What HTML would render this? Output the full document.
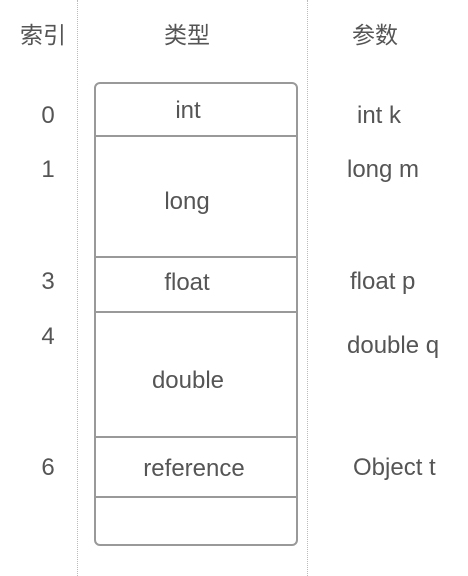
<!DOCTYPE html>
<html><head><meta charset="utf-8"><style>
body{margin:0;width:468px;height:576px;background:#fff;overflow:hidden;position:relative;font-family:"Liberation Sans","Noto Sans CJK SC",sans-serif;color:#555;}
.t{position:absolute;font-size:24px;line-height:28px;white-space:nowrap;transform:translate(-50%,-50%);}
.c{font-size:23px;}
.l{position:absolute;font-size:24px;line-height:28px;white-space:nowrap;transform:translateY(-50%);}
.v{position:absolute;top:0;height:576px;border-left:1.5px dotted #bbb;}
.box{position:absolute;left:94px;top:82px;width:200px;height:460px;border:2px solid #999;border-radius:6px;}
.h{position:absolute;left:94px;width:204px;border-top:2px solid #999;}
</style></head><body>
<div class="v" style="left:77px"></div>
<div class="v" style="left:307px"></div>
<div class="box"></div>
<div class="h" style="top:135px"></div>
<div class="h" style="top:256px"></div>
<div class="h" style="top:311px"></div>
<div class="h" style="top:436px"></div>
<div class="h" style="top:496px"></div>
<div class="t c" style="left:43px;top:35px">索引</div>
<div class="t c" style="left:187px;top:35px">类型</div>
<div class="t c" style="left:375px;top:35px">参数</div>
<div class="t" style="left:48px;top:116px">0</div>
<div class="t" style="left:48px;top:170px">1</div>
<div class="t" style="left:48px;top:282px">3</div>
<div class="t" style="left:48px;top:337px">4</div>
<div class="t" style="left:48px;top:468px">6</div>
<div class="t" style="left:188px;top:111px">int</div>
<div class="t" style="left:187px;top:202px">long</div>
<div class="t" style="left:187px;top:283px">float</div>
<div class="t" style="left:188px;top:381px">double</div>
<div class="t" style="left:194px;top:469px">reference</div>
<div class="l" style="left:357px;top:116px">int k</div>
<div class="l" style="left:347px;top:170px">long m</div>
<div class="l" style="left:350px;top:282px">float p</div>
<div class="l" style="left:347px;top:346px">double q</div>
<div class="l" style="left:353px;top:468px">Object t</div>
</body></html>
